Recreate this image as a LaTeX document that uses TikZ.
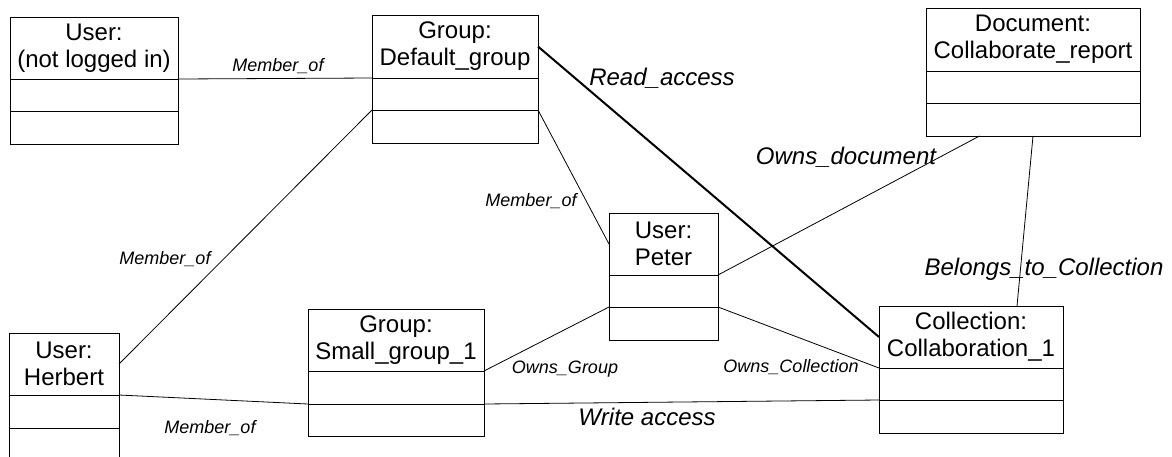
\documentclass[tikz,border=0pt]{standalone}
\usepackage{fontspec}
\setmainfont{Liberation Sans}
\usetikzlibrary{calc}

\tikzset{
  objframe/.style={draw, line width=1pt, inner sep=0pt, outer sep=0pt},
  objrule/.style={line width=1pt},
  objtitle/.style={inner sep=0pt, align=center, font=\fontsize{24}{27}\selectfont},
  conn/.style={line width=0.8pt},
  connthick/.style={line width=2pt},
  smalllab/.style={inner sep=0pt, font=\fontsize{18}{20}\selectfont\itshape},
  biglab/.style={inner sep=0pt, font=\fontsize{24}{26}\selectfont\itshape},
}

% object box: name, x, y, width, title height, 2nd cell, 3rd cell, title lines
\newcommand\objbox[9]{%
  \node[objframe, minimum width=#4pt, minimum height={#5pt+#6pt+#7pt},
        anchor=north west] (#1) at (#2,#3) {};
  \coordinate (#1-w1) at ($(#1.north west)+(0,#5)$);
  \coordinate (#1-e1) at ($(#1.north east)+(0,#5)$);
  \coordinate (#1-w2) at ($(#1-w1)+(0,#6)$);
  \coordinate (#1-e2) at ($(#1-e1)+(0,#6)$);
  \draw[objrule] (#1-w1) -- (#1-e1) (#1-w2) -- (#1-e2);
  \node[objtitle] (#1-title) at ($(#1.north)+(0,#5/2)$) {#8\\#9};
}

\begin{document}
\begin{tikzpicture}[x=1pt, y=-1pt]
\useasboundingbox (0,0) rectangle (1172,456);

\objbox{ul}{10}{17}{168}{62}{32}{33}{User:}{(not logged in)}
\objbox{dg}{372}{15}{166}{63}{32}{33}{Group:}{Default\_group}
\objbox{doc}{926}{8}{214}{63}{32}{33}{Document:}{Collaborate\_report}
\objbox{pe}{609}{213}{109}{62}{32}{33}{User:}{Peter}
\objbox{col}{879}{306}{184}{62}{32}{33}{Collection:}{Collaboration\_1}
\objbox{sg}{308}{309}{176}{62}{33}{32}{Group:}{Small\_group\_1}
\objbox{hb}{9}{333}{110}{62}{33}{33}{User:}{Herbert}

% associations
\draw[conn] (ul-e1) -- (dg-w1);
\draw[conn] (dg-w2) -- (hb.east |- hb-title);
\draw[conn] (dg-e2) -- (pe.west |- pe-title);
\draw[connthick] (dg.east |- dg-title) -- (col.west |- col-title);
\draw[conn] ($(doc.south west)!0.25!(doc.south east)$) -- (pe-e1);
\draw[conn] (doc.south) -- ($(col.north west)!0.75!(col.north east)$);
\draw[conn] (pe-e2) -- (col-w1);
\draw[conn] (sg-e1) -- (pe-w2);
\draw[conn] (hb-e1) -- (sg-w2);
\draw[conn] (sg-e2) -- (col-w2);

% association names
\node[smalllab] (l1) at (278,66) {Member\_of};
\node[smalllab] (l2) at (165,259) {Member\_of};
\node[smalllab] (l3) at (531,201) {Member\_of};
\node[biglab] (l4) at (662,78) {Read\_access};
\node[biglab] (l5) at (846,157) {Owns\_document};
\node[biglab] (l6) at (1044,269) {Belongs\_to\_Collection};
\node[smalllab] (l7) at (791,367) {Owns\_Collection};
\node[smalllab] (l8) at (565,369) {Owns\_Group};
\node[smalllab] (l9) at (210,428) {Member\_of};
\node[biglab] (l10) at (647,417) {Write access};
\end{tikzpicture}
\end{document}
